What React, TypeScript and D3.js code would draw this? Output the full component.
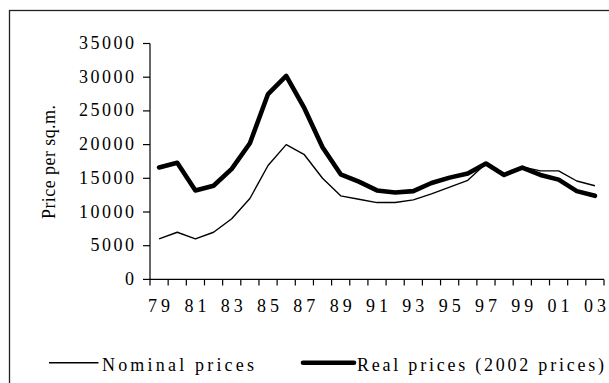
import React, { useEffect, useRef } from "react";
import * as d3 from "d3";

// Years on the category axis (two-digit labels)
const years = ["79","80","81","82","83","84","85","86","87","88","89","90","91","92","93","94","95","96","97","98","99","00","01","02","03"];

// Price per square metre
const nominalPrices = [6000,7000,6000,7000,9000,12000,16900,20000,18500,15000,12400,11900,11400,11400,11800,12700,13700,14700,17200,15500,16700,16100,16100,14600,13900];
const realPrices = [16600,17300,13200,13900,16400,20200,27500,30200,25400,19600,15600,14500,13200,12900,13100,14300,15100,15700,17200,15500,16600,15500,14800,13100,12400];

const yTicks = [0,5000,10000,15000,20000,25000,30000,35000];

const W = 609;
const H = 383;
const FONT = "'Liberation Serif', 'Times New Roman', serif";

export default function App() {
  const ref = useRef<SVGSVGElement | null>(null);

  useEffect(() => {
    const svg = d3.select(ref.current);
    svg.selectAll("*").remove();

    const x0 = 150, x1 = 604;
    const yBottom = 279.4, yTop = 43.5;

    const x = d3.scaleBand<string>().domain(years).range([x0, x1]).padding(0);
    const y = d3.scaleLinear().domain([0, 35000]).range([yBottom, yTop]);
    const cx = (i: number) => (x(years[i]) as number) + x.bandwidth() / 2;

    // outer frame
    svg.append("rect")
      .attr("x", 9.5).attr("y", 10.5)
      .attr("width", 700).attr("height", 500)
      .attr("fill", "none").attr("stroke", "#222").attr("stroke-width", 1.3);

    // y axis
    const gy = svg.append("g");
    gy.append("line")
      .attr("x1", x0).attr("x2", x0).attr("y1", yTop).attr("y2", yBottom)
      .attr("stroke", "#000").attr("stroke-width", 1.2);
    yTicks.forEach((t) => {
      gy.append("line")
        .attr("x1", x0 - 7).attr("x2", x0).attr("y1", y(t)).attr("y2", y(t))
        .attr("stroke", "#000").attr("stroke-width", 1.2);
      gy.append("text")
        .attr("x", 134 + 2.5).attr("y", y(t) + 5.5)
        .attr("text-anchor", "end")
        .attr("font-family", FONT).attr("font-size", 18)
        .attr("letter-spacing", 2.5)
        .attr("fill", "#000")
        .text(String(t));
    });

    // x axis
    const gx = svg.append("g");
    gx.append("line")
      .attr("x1", x0).attr("x2", x1).attr("y1", yBottom).attr("y2", yBottom)
      .attr("stroke", "#000").attr("stroke-width", 1.2);
    d3.range(years.length + 1).forEach((i) => {
      const tx = x0 + i * x.step();
      gx.append("line")
        .attr("x1", tx).attr("x2", tx).attr("y1", yBottom).attr("y2", yBottom + 6)
        .attr("stroke", "#000").attr("stroke-width", 1.2);
    });
    years.forEach((yr, i) => {
      if (i % 2 !== 0) return;
      gx.append("text")
        .attr("x", cx(i) + 2).attr("y", 311.5)
        .attr("text-anchor", "middle")
        .attr("font-family", FONT).attr("font-size", 18)
        .attr("letter-spacing", 4)
        .attr("fill", "#000")
        .text(yr);
    });

    // y axis title
    svg.append("text")
      .attr("transform", "translate(54.5,162) rotate(-90)")
      .attr("text-anchor", "middle")
      .attr("font-family", FONT).attr("font-size", 18)
      .attr("textLength", 114).attr("lengthAdjust", "spacing")
      .attr("fill", "#000")
      .text("Price per sq.m.");

    const line = d3.line<number>()
      .x((_, i) => cx(i))
      .y((d) => y(d));

    svg.append("path")
      .datum(nominalPrices)
      .attr("d", line)
      .attr("fill", "none").attr("stroke", "#000")
      .attr("stroke-width", 1.4).attr("stroke-linejoin", "round");

    svg.append("path")
      .datum(realPrices)
      .attr("d", line)
      .attr("fill", "none").attr("stroke", "#000")
      .attr("stroke-width", 4.6).attr("stroke-linejoin", "round")
      .attr("stroke-linecap", "round");

    // legend
    const lg = svg.append("g");
    lg.append("line")
      .attr("x1", 49).attr("x2", 98.5).attr("y1", 362.7).attr("y2", 362.7)
      .attr("stroke", "#000").attr("stroke-width", 1.4);
    lg.append("text")
      .attr("x", 102).attr("y", 370.5)
      .attr("font-family", FONT).attr("font-size", 18)
      .attr("textLength", 152).attr("lengthAdjust", "spacing")
      .attr("fill", "#000")
      .text("Nominal prices");
    lg.append("line")
      .attr("x1", 303).attr("x2", 354).attr("y1", 362.7).attr("y2", 362.7)
      .attr("stroke", "#000").attr("stroke-width", 4.6).attr("stroke-linecap", "round");
    lg.append("text")
      .attr("x", 357).attr("y", 370.5)
      .attr("font-family", FONT).attr("font-size", 18)
      .attr("textLength", 247).attr("lengthAdjust", "spacing")
      .attr("fill", "#000")
      .text("Real prices (2002 prices)");
  }, []);

  return (
    <svg
      ref={ref}
      width={W}
      height={H}
      style={{ position: "absolute", left: 0, top: 0, background: "#fff" }}
    />
  );
}
